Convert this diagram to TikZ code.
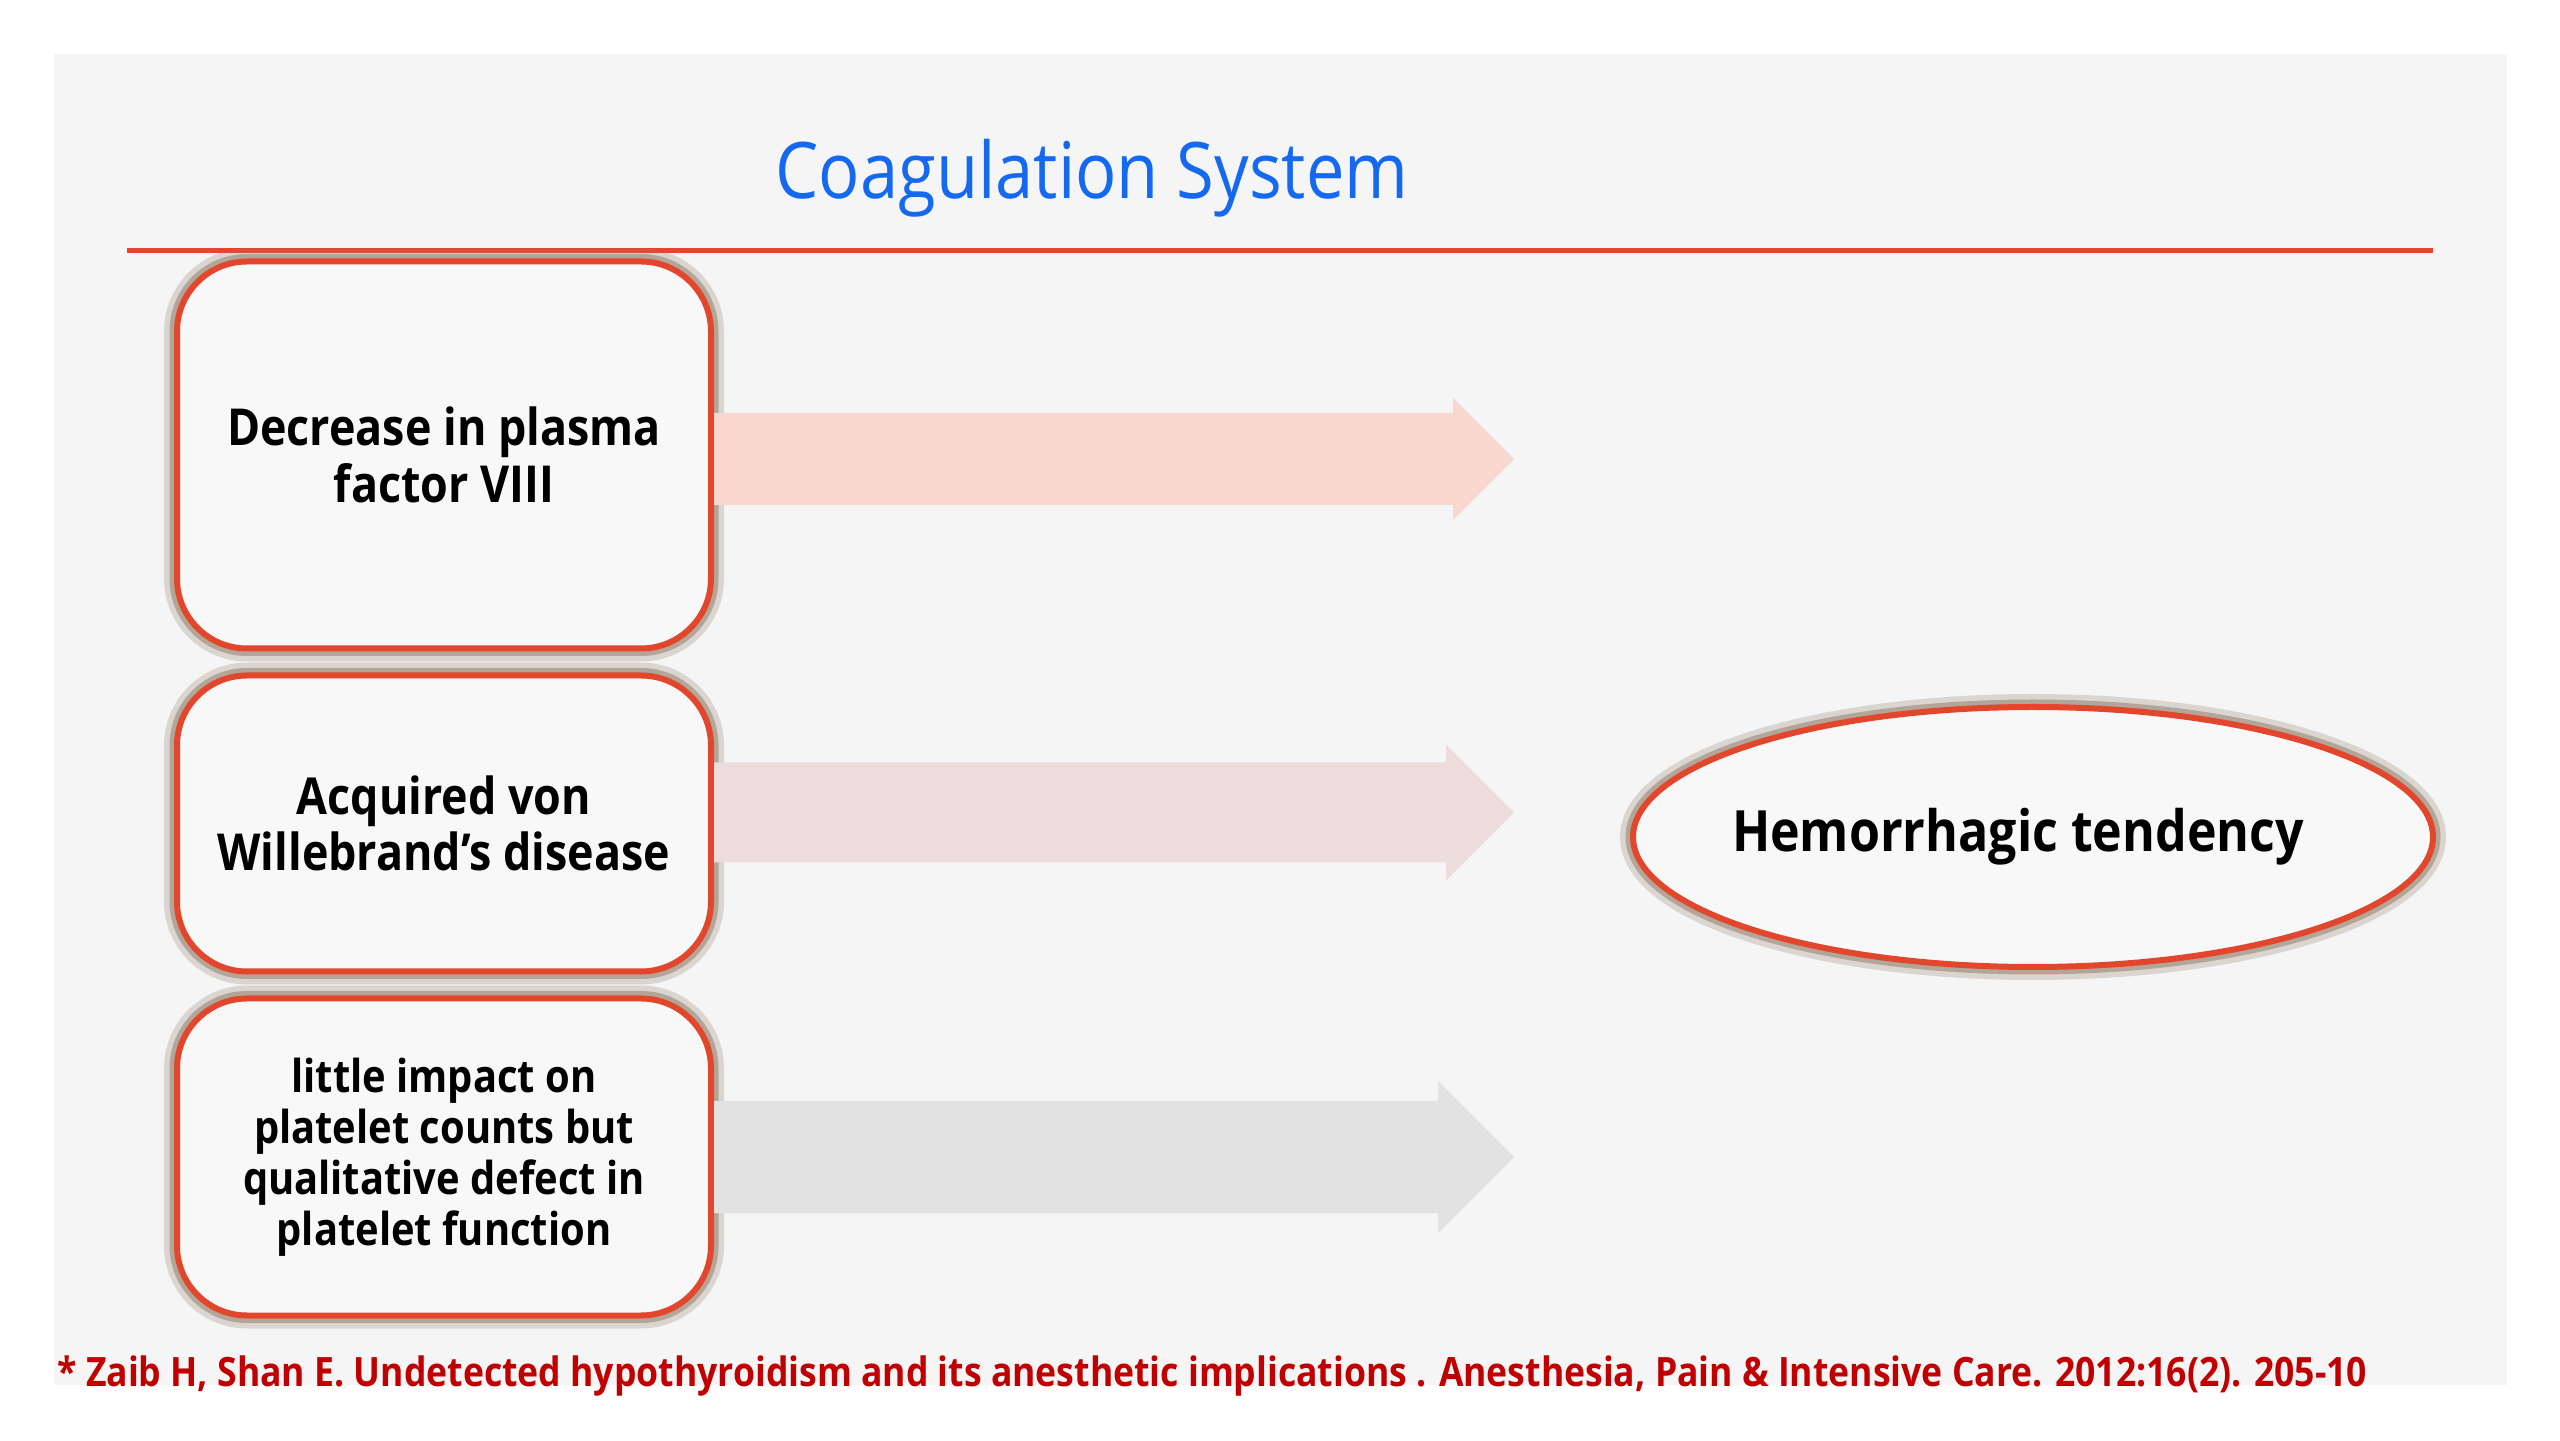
\documentclass[tikz,border=0pt]{standalone}
\usepackage{fontspec}
\setmainfont{Open Sans}[FakeStretch=0.88]
\usepackage{xcolor}
\usetikzlibrary{positioning, shapes.geometric}
\definecolor {panel}   {RGB}{245, 245, 245}
\definecolor {boxfill} {RGB}{248, 248, 248}
\definecolor {rim}     {RGB}{226, 70, 44}
\definecolor {halo}    {RGB}{140, 120, 100}
\definecolor {titleblue} {RGB}{20, 105, 240}
\definecolor {citered} {RGB}{192, 0, 0}
\definecolor {arrowA}  {RGB}{248, 215, 207}
\definecolor {arrowB}  {RGB}{237, 220, 220}
\definecolor {arrowC}  {RGB}{226, 226, 226}

\tikzset{
	glow/.style={preaction={draw=halo, opacity=0.25, line width=0.26cm},
		preaction={draw=halo, opacity=0.5, line width=0.15cm}},
	cause/.style={glow, draw=rim, line width=0.06cm, fill=boxfill, rounded corners=0.7cm,
		minimum width=5.34cm, align=center, font=\fontsize{14.5}{16}\selectfont\bfseries},
	effect/.style={glow, ellipse, draw=rim, line width=0.06cm, fill=boxfill, inner sep=0pt,
		minimum width=8cm, minimum height=2.6cm}
}

\begin{document}
\begin{tikzpicture}

	% Draw page and slide panel
	\fill[white] (0, 0) rectangle (25.6, 14.4);
	\useasboundingbox (0, 0) rectangle (25.6, 14.4);
	\fill[panel] (0.54, 0.55) rectangle (25.07, 13.86);

	% Draw title and rule
	\node[anchor=base, text=titleblue, font=\fontsize{22.2}{26}\selectfont] (title) at (10.92, 12.41) {Coagulation System};
	\draw[rim, line width=0.05cm] (1.27, 11.89) -- (24.33, 11.89);

	% Draw boxes for causes
	\node[cause, minimum height=3.87cm] (factor) at (4.44, 9.85) {Decrease in plasma\\factor VIII};
	\node[cause, minimum height=2.96cm, below=0.21cm of factor] (vwd) {Acquired von\\Willebrand’s disease};
	\node[cause, minimum height=3.17cm, below=0.21cm of vwd, font=\fontsize{12.9}{14.5}\selectfont\bfseries] (platelet) {little impact on\\platelet counts but\\qualitative defect in\\platelet function};

	% Draw ellipse for the outcome
	\node[effect, label={[xshift=-0.15cm, font=\fontsize{16.2}{19}\selectfont\bfseries]center:Hemorrhagic tendency}] (bleed) at (20.33, 6.03) {};

	% Draw block arrows
	\foreach \src/\dy/\bw/\hw/\col in {factor/-0.04/0.46/0.61/arrowA, vwd/0.11/0.50/0.68/arrowB, platelet/0.00/0.56/0.76/arrowC}
		\fill[\col] ([yshift=\dy cm + \bw cm]\src.east) -- ++({8.0-\hw}, 0) -- ++(0, {\hw-\bw}) -- ++(\hw, -\hw)
			-- ++(-\hw, -\hw) -- ++(0, {\hw-\bw}) -- ([yshift=\dy cm - \bw cm]\src.east) -- cycle;

	% Draw reference
	\node[anchor=base west, text=citered, font=\fontsize{11.5}{13}\selectfont\bfseries] (cite) at (0.45, 0.54)
		{* Zaib H, Shan E. Undetected hypothyroidism and its anesthetic implications . Anesthesia, Pain \& Intensive Care. 2012:16(2). 205-10};

\end{tikzpicture}
\end{document}
